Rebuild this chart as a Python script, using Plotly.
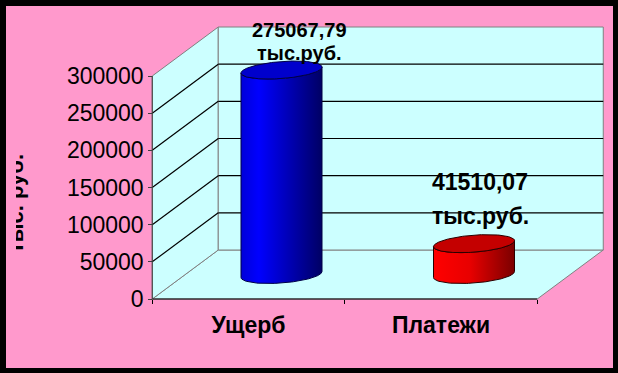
import numpy as np
import plotly.graph_objects as go

# ---------------- data ----------------
categories = ["Ущерб", "Платежи"]
values = [275067.79, 41510.07]
unit_label = "тыс.руб."
axis_title = "тыс. руб."
y_ticks = [0, 50000, 100000, 150000, 200000, 250000, 300000]
y_tick_labels = ["0", "50000", "100000", "150000", "200000", "250000", "300000"]
y_max = 300000

# ---------------- styles / geometry ----------------
W, H = 618, 373
M_L, M_R, M_T, M_B = 16, 6, 6, 6
PLOT_W, PLOT_H = W - M_L - M_R, H - M_T - M_B
CAT0_PX, CAT_PX = 248.5, 192.5      # front-plane centre of first category, px per category
PY_ZERO, PY_TOP = 299.0, 76.0       # front-plane pixel rows of 0 and y_max
S = (PY_ZERO - PY_TOP) / y_max       # px per value unit
DEPTH_X_PX, DEPTH_Y_PX = 66.0, 49.0

def ux(p):
    return p / CAT_PX

def uy(p):
    return p / S

def xd(p):  # pixel column -> x data
    return (p - CAT0_PX) / CAT_PX

X0 = xd(M_L)
X1 = X0 + PLOT_W / CAT_PX
Y1 = (PY_ZERO - M_T) / S
Y0 = Y1 - PLOT_H / S
DX, DY = ux(DEPTH_X_PX), uy(DEPTH_Y_PX)

WALL = "#CCFFFF"
EDGE = "#808080"
GRID = "#000000"
PINK = "#FF99CC"
FONT = "Liberation Sans, Arial, sans-serif"

series_style = [
    dict(scale=[[0, "#0000D8"], [0.22, "#0000FF"], [1, "#000064"]], top="#0000CC", edge="#000046",
         fsize=20, l1=40, l2=17, xs=18),
    dict(scale=[[0, "#FF0000"], [0.45, "#E80000"], [1, "#7A0000"]], top="#C40000", edge="#2A0000",
         fsize=23, l1=61.5, l2=27.5, xs=6),
]
RX_PX, RY_PX, TILT_PX = 40.5, 8.5, 3.0

fig = go.Figure()

# ---------------- walls / grid as shapes ----------------
shapes = []
shapes.append(dict(type="rect", xref="paper", yref="paper",
                   x0=(6 - M_L) / PLOT_W, x1=(613 - M_L) / PLOT_W,
                   y0=(H - M_B - 368) / PLOT_H, y1=(H - M_B - 6) / PLOT_H,
                   fillcolor=PINK, line=dict(width=0), layer="below"))
L, R = -0.5, len(categories) - 0.5

def poly(pts):
    return "M " + " L ".join(f"{x},{y}" for x, y in pts) + " Z"

# floor
shapes.append(dict(type="path", xref="x", yref="y", layer="below",
                   path=poly([(L, 0), (R, 0), (R + DX, DY), (L + DX, DY)]),
                   fillcolor=WALL, line=dict(color=EDGE, width=1)))
# side wall
shapes.append(dict(type="path", xref="x", yref="y", layer="below",
                   path=poly([(L, 0), (L + DX, DY), (L + DX, y_max + DY), (L, y_max)]),
                   fillcolor=WALL, line=dict(color=EDGE, width=1)))
# back wall
shapes.append(dict(type="rect", xref="x", yref="y", layer="below",
                   x0=L + DX, x1=R + DX, y0=DY, y1=y_max + DY,
                   fillcolor=WALL, line=dict(color=EDGE, width=1)))
for v in y_ticks[1:-1]:
    shapes.append(dict(type="line", xref="x", yref="y", layer="below",
                       x0=L + DX, x1=R + DX, y0=v + DY, y1=v + DY, line=dict(color=GRID, width=1.2)))
    shapes.append(dict(type="line", xref="x", yref="y", layer="below",
                       x0=L, x1=L + DX, y0=v, y1=v + DY, line=dict(color=GRID, width=1.2)))
# front axis lines
shapes.append(dict(type="line", xref="x", yref="y", x0=L, x1=R, y0=0, y1=0,
                   line=dict(color="#000000", width=1.2)))
shapes.append(dict(type="line", xref="x", yref="y", x0=L, x1=L, y0=0, y1=y_max,
                   line=dict(color="#404040", width=1)))

# ---------------- cylinders ----------------
def ell(cx, cy, t):
    ox = RX_PX * np.cos(t)
    oy = RY_PX * np.sin(t) - TILT_PX * np.cos(t)
    return cx + ux(ox), cy - uy(oy)

annotations = []
for i, (cat, val, st) in enumerate(zip(categories, values, series_style)):
    cx = i + DX / 2
    base = DY / 2
    top = val + DY / 2
    tf = np.linspace(np.pi, 0, 80)
    tx, ty = ell(cx, top, tf)
    bx, by = ell(cx, base, tf[::-1])
    xs = np.concatenate([tx, bx, tx[:1]])
    ys = np.concatenate([ty, by, ty[:1]])
    fig.add_trace(go.Scatter(x=xs, y=ys, mode="lines", fill="toself",
                             fillgradient=dict(type="horizontal", colorscale=st["scale"]),
                             line=dict(color=st["edge"], width=1), hoverinfo="skip", showlegend=False))
    ta = np.linspace(0, 2 * np.pi, 160)
    ex, ey = ell(cx, top, ta)
    fig.add_trace(go.Scatter(x=ex, y=ey, mode="lines", fill="toself", fillcolor=st["top"],
                             line=dict(color=st["edge"], width=1), hoverinfo="skip", showlegend=False))
    num = f"{val:.2f}".replace(".", ",")
    for txt, up in ((num, st["l1"]), (unit_label, st["l2"])):
        annotations.append(dict(x=cx, y=top, xref="x", yref="y", text=txt, showarrow=False,
                                xanchor="center", yanchor="middle", xshift=st["xs"], yshift=up,
                                font=dict(family=FONT, size=st["fsize"], color="#000000", weight="bold")))

# ---------------- clipped axis title (bar text, clipped to the plot area) ----------------
title_v = (PY_ZERO - 203.5) / S
fig.add_trace(go.Bar(orientation="h", y=[title_v], base=[xd(60)], x=[xd(28) - xd(60)],
                     width=uy(2), marker=dict(color="rgba(0,0,0,0)", line=dict(width=0)),
                     text=[axis_title], textposition="outside", textangle=-90,
                     constraintext="none", cliponaxis=True,
                     outsidetextfont=dict(family=FONT, size=22, color="#000000", weight="bold"),
                     hoverinfo="skip", showlegend=False))

fig.update_layout(
    width=W, height=H, margin=dict(l=M_L, r=M_R, t=M_T, b=M_B),
    paper_bgcolor="#000000", plot_bgcolor="rgba(0,0,0,0)",
    shapes=shapes, annotations=annotations, showlegend=False,
    xaxis=dict(range=[X0, X1], anchor="free", position=(H - M_B - PY_ZERO) / PLOT_H,
               tickvals=list(range(len(categories))), ticktext=categories, ticks="",
               tickfont=dict(family=FONT, size=23, color="#000000", weight="bold"),
               ticklabelstandoff=10,
               minor=dict(tickvals=[L + k for k in range(len(categories) + 1)], ticks="outside",
                          ticklen=4, tickcolor="#000000", showgrid=False),
               showgrid=False, zeroline=False, showline=False, fixedrange=True),
    yaxis=dict(range=[Y0, Y1], anchor="free", position=(CAT0_PX - 0.5 * CAT_PX - M_L) / PLOT_W,
               tickvals=y_ticks, ticktext=y_tick_labels, ticks="outside", ticklen=4,
               tickcolor="#404040",
               tickfont=dict(family=FONT, size=23, color="#000000"),
               showgrid=False, zeroline=False, showline=False, fixedrange=True),
)

fig.write_html("out.html")
